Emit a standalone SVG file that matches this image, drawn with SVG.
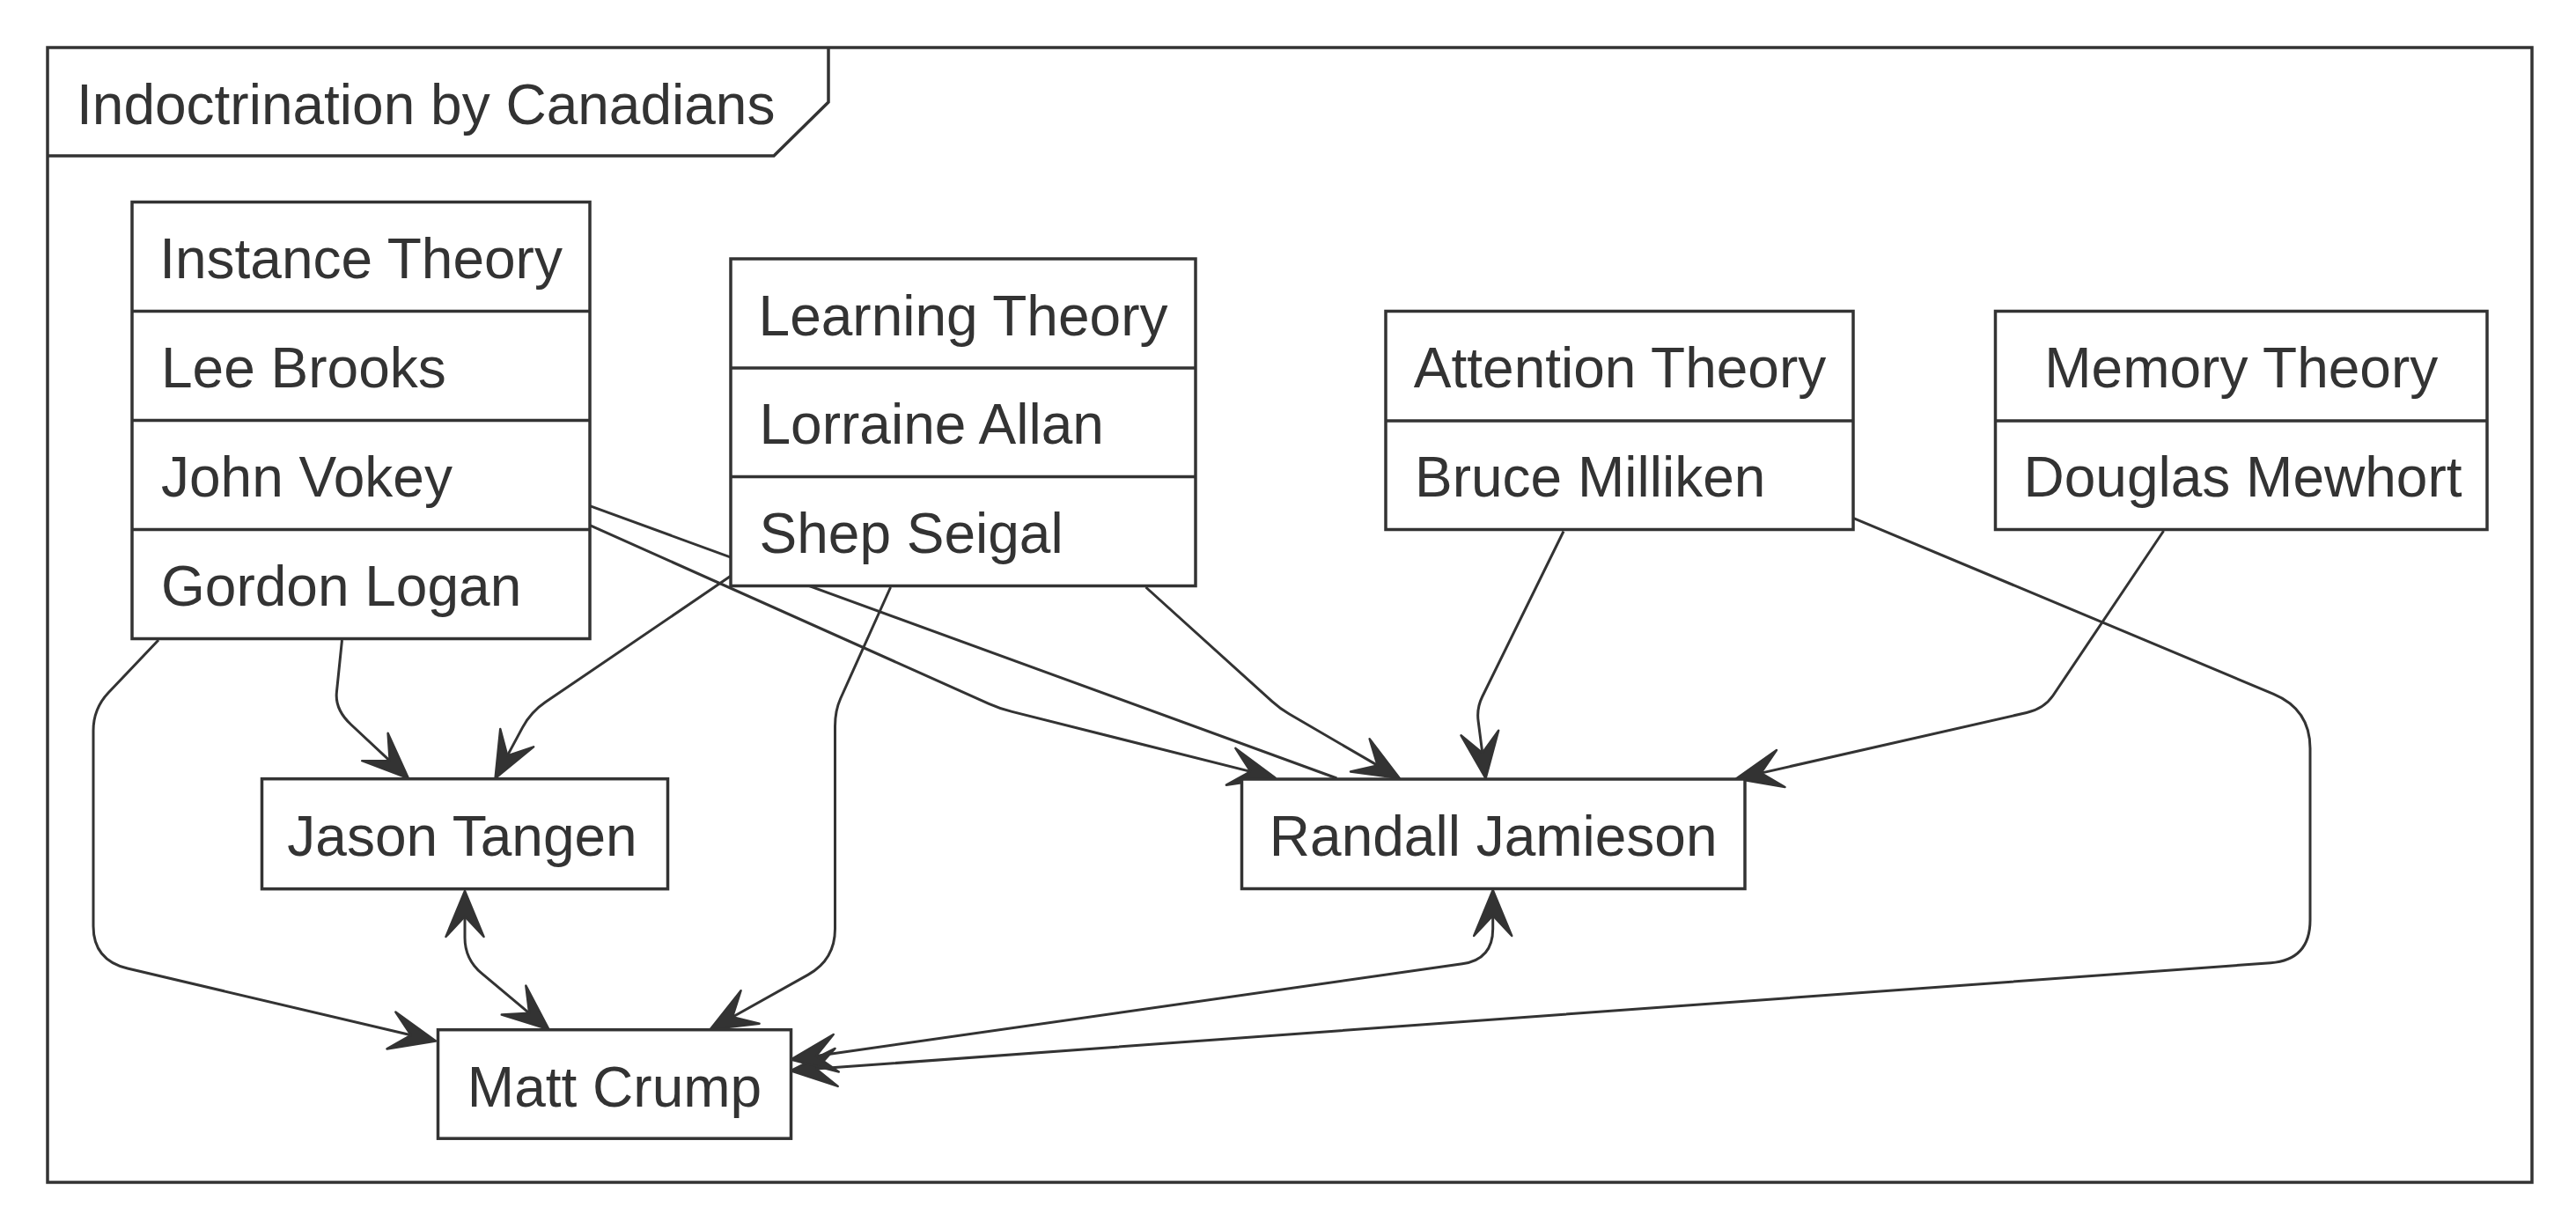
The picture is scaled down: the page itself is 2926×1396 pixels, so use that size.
<svg xmlns="http://www.w3.org/2000/svg" width="2926" height="1396" viewBox="0 0 2926 1396">
<defs>
<style>
.bx{fill:#ffffff;stroke:#333333;stroke-width:3.5}
.sep{stroke:#333333;stroke-width:3.5;fill:none}
.t{font-family:"Liberation Sans",Arial,Helvetica,sans-serif;font-size:64px;fill:#333333}
.c{text-anchor:middle}
.ln{fill:none;stroke:#333333;stroke-width:3;stroke-linejoin:round}
.ar{marker-end:url(#ah)}
.bi{marker-start:url(#ah);marker-end:url(#ah)}
</style>
<marker id="ah" markerUnits="userSpaceOnUse" viewBox="-26 -25 58 50" markerWidth="58" markerHeight="50" refX="0" refY="0" orient="auto-start-reverse">
<path d="M29,0 L-23,-21.5 L0,0 L-23,21.5 Z" fill="#333333" stroke="#333333" stroke-width="2.5" stroke-linejoin="round"/>
</marker>
</defs>
<rect x="0" y="0" width="2926" height="1396" fill="#ffffff"/>
<g id="frame">
<rect x="54" y="54" width="2822" height="1289" fill="none" stroke="#333333" stroke-width="3.5"/>
<path d="M54,177 L879,177 L941,116 L941,54" fill="none" stroke="#333333" stroke-width="3.5"/>
<text class="t" x="87" y="141">Indoctrination by Canadians</text>
</g>
<g id="connectors">
<path class="ln ar" d="M180,727 L123.2,786.8 Q106,805 106,830 L106,1052 Q106,1090.8 144.9,1100 L466.8,1175.8"/>
<path class="ln ar" d="M388.5,727 L382.4,786.1 Q380.3,806 398.7,823 L442.7,864.2"/>
<path class="ln ar" d="M829.6,654.6 L619.5,797.6 Q603,808.8 593.5,826.4 L576.3,858.4"/>
<path class="ln ar" d="M1011.6,667 L954.7,793.5 Q948.5,807.2 948.5,825 L948.5,1055 Q948.5,1090 918,1107.1 L832,1155.2"/>
<path class="ln bi" d="M528,1041 L528,1065 Q528,1089.7 547.2,1105.7 L601.2,1150.8"/>
<path class="ln" d="M670,574.7 L1518.4,884"/>
<path class="ln ar" d="M670,596.6 L1123.2,799.3 Q1136,805 1149.6,808.4 L1420.4,876.4"/>
<path class="ln ar" d="M1301.5,667 L1445.1,796.9 Q1454,805 1464.4,811 L1564.7,869.4"/>
<path class="ln ar" d="M1776,603.5 L1683.6,791.5 Q1677,805 1679.2,819.8 L1683.8,855.3"/>
<path class="ln ar" d="M2457.6,603 L2332,790 Q2321.8,805 2302,809.5 L2000.3,878.1"/>
<path class="ln ar" d="M2104.8,588.3 L2582.5,788.3 Q2624,805.7 2624,850 L2624,1045 Q2624,1090.4 2579.1,1093.7 L927.2,1214.1"/>
<path class="ln bi" d="M1695.7,1040 L1695.7,1055 Q1695.7,1089.9 1661,1094.8 L927,1199.5"/>
</g>
<g id="instance-theory">
<rect class="bx" x="150" y="229.5" width="520" height="496"/>
<path class="sep" d="M150,353.5 H670 M150,477.5 H670 M150,601.5 H670"/>
<text class="t c" x="410" y="316">Instance Theory</text>
<text class="t" x="183" y="440">Lee Brooks</text>
<text class="t" x="183" y="564">John Vokey</text>
<text class="t" x="183" y="688">Gordon Logan</text>
</g>
<g id="learning-theory">
<rect class="bx" x="830" y="294" width="528" height="371.5"/>
<path class="sep" d="M830,418 H1358 M830,541.5 H1358"/>
<text class="t c" x="1094" y="380.5">Learning Theory</text>
<text class="t" x="862.5" y="504">Lorraine Allan</text>
<text class="t" x="862.5" y="628">Shep Seigal</text>
</g>
<g id="attention-theory">
<rect class="bx" x="1574" y="353.5" width="531" height="248"/>
<path class="sep" d="M1574,478 H2105"/>
<text class="t c" x="1840" y="440">Attention Theory</text>
<text class="t" x="1607" y="564">Bruce Milliken</text>
</g>
<g id="memory-theory">
<rect class="bx" x="2266.5" y="353.5" width="558.5" height="248"/>
<path class="sep" d="M2266.5,478 H2825"/>
<text class="t c" x="2545.75" y="440">Memory Theory</text>
<text class="t" x="2298.5" y="564">Douglas Mewhort</text>
</g>
<g id="randall-jamieson">
<rect class="bx" x="1410.5" y="885" width="571.5" height="124.5"/>
<text class="t c" x="1696.2" y="971.5">Randall Jamieson</text>
</g>
<g id="jason-tangen">
<rect class="bx" x="297.5" y="884.7" width="461" height="125"/>
<text class="t c" x="525" y="971.5">Jason Tangen</text>
</g>
<g id="matt-crump">
<rect class="bx" x="497.5" y="1169.7" width="401" height="123.5"/>
<text class="t c" x="698" y="1256.5">Matt Crump</text>
</g>
</svg>
